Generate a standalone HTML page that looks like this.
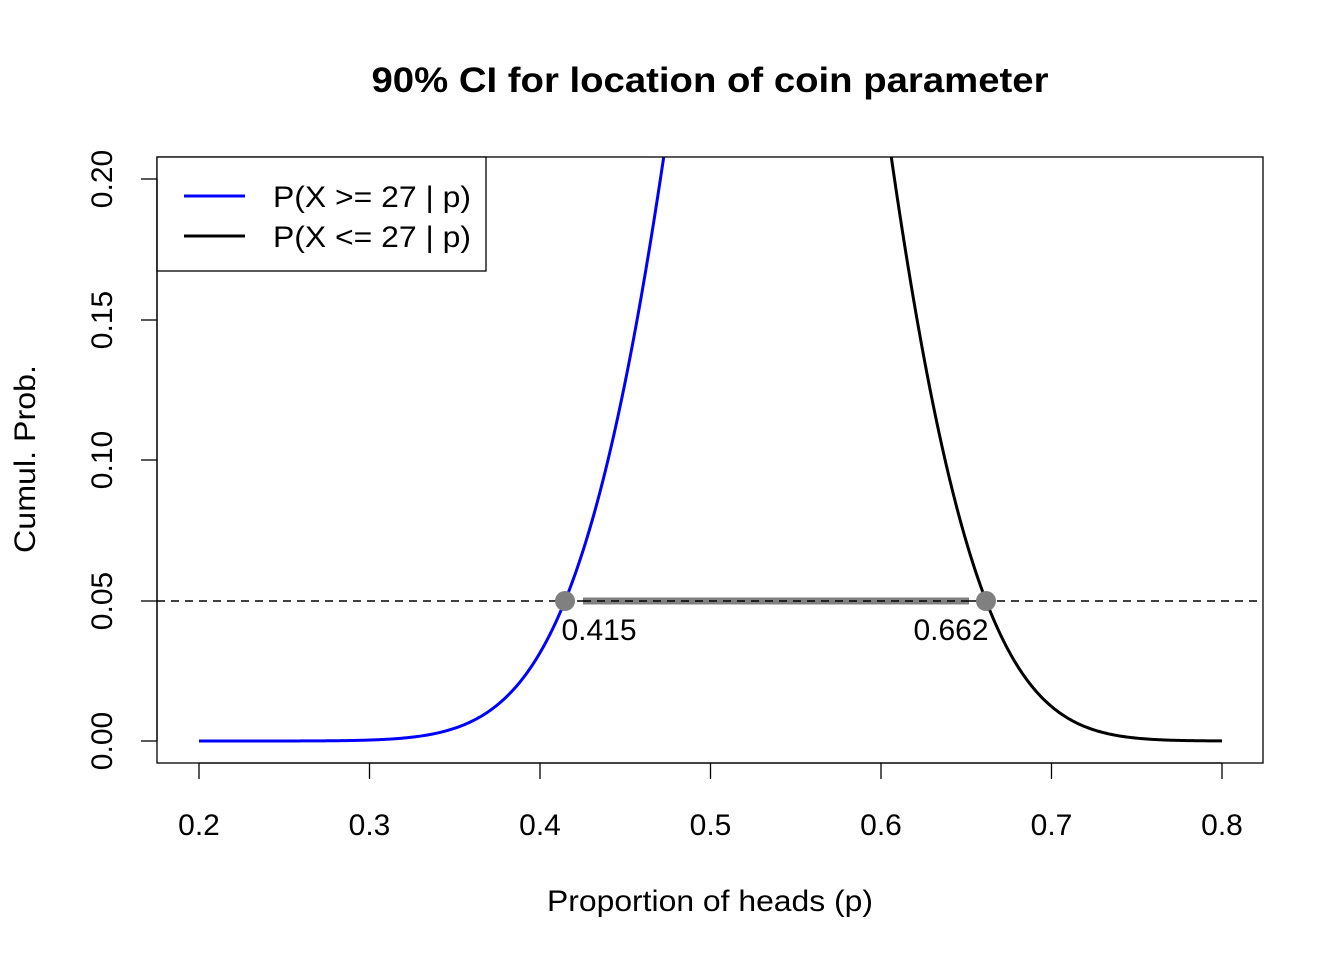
<!DOCTYPE html>
<html><head><meta charset="utf-8"><style>
html,body{margin:0;padding:0;background:#fff}
svg text{font-family:"Liberation Sans",Arial,sans-serif;fill:#000}
</style></head><body>
<svg id="s" width="1344" height="960" xmlns="http://www.w3.org/2000/svg">
<defs><clipPath id="c"><rect x="157" y="157" width="1106" height="606"/></clipPath></defs>
<text x="710" y="92" font-size="35" font-weight="bold" text-anchor="middle" textLength="677" lengthAdjust="spacingAndGlyphs">90% CI for location of coin parameter</text>
<g clip-path="url(#c)">
<line x1="157" y1="601" x2="1263" y2="601" stroke="#000" stroke-width="1.5" stroke-dasharray="8,6"/>
<line x1="583" y1="601" x2="969" y2="601" stroke="#808080" stroke-width="7"/>
<line x1="583" y1="601" x2="969" y2="601" stroke="#000" stroke-width="1.5" stroke-dasharray="8,6"/>
<path id="pb" fill="none" stroke="#0000ff" stroke-width="3"/>
<path id="pk" fill="none" stroke="#000" stroke-width="3"/>
<circle cx="565" cy="601" r="10" fill="#808080"/>
<circle cx="986" cy="601" r="10" fill="#808080"/>
</g>
<text x="599" y="640" font-size="30" text-anchor="middle">0.415</text>
<text x="951" y="640" font-size="30" text-anchor="middle">0.662</text>
<rect x="157" y="157" width="1106" height="606" fill="none" stroke="#000" stroke-width="1.3"/>
<rect x="157" y="157" width="329" height="114" fill="#fff" stroke="#000" stroke-width="1.3"/>
<line x1="184" y1="196" x2="245" y2="196" stroke="#0000ff" stroke-width="3"/>
<line x1="184" y1="236" x2="245" y2="236" stroke="#000" stroke-width="3"/>
<text x="273" y="207" font-size="30" textLength="198" lengthAdjust="spacingAndGlyphs">P(X &gt;= 27 | p)</text>
<text x="273" y="247" font-size="30" textLength="198" lengthAdjust="spacingAndGlyphs">P(X &lt;= 27 | p)</text>
<g stroke="#000" stroke-width="1.3">
<line x1="199" y1="763" x2="1222" y2="763"/>
<line x1="199" y1="763" x2="199" y2="779"/><line x1="369.5" y1="763" x2="369.5" y2="779"/>
<line x1="540" y1="763" x2="540" y2="779"/><line x1="710.5" y1="763" x2="710.5" y2="779"/>
<line x1="881" y1="763" x2="881" y2="779"/><line x1="1051.5" y1="763" x2="1051.5" y2="779"/>
<line x1="1222" y1="763" x2="1222" y2="779"/>
<line x1="157" y1="179" x2="157" y2="741"/>
<line x1="141" y1="741" x2="157" y2="741"/><line x1="141" y1="601" x2="157" y2="601"/>
<line x1="141" y1="460" x2="157" y2="460"/><line x1="141" y1="320" x2="157" y2="320"/>
<line x1="141" y1="179" x2="157" y2="179"/>
</g>
<g font-size="30" text-anchor="middle">
<text x="199" y="835">0.2</text><text x="369.5" y="835">0.3</text><text x="540" y="835">0.4</text>
<text x="710.5" y="835">0.5</text><text x="881" y="835">0.6</text><text x="1051.5" y="835">0.7</text>
<text x="1222" y="835">0.8</text>
<text transform="translate(112,741) rotate(-90)">0.00</text>
<text transform="translate(112,601) rotate(-90)">0.05</text>
<text transform="translate(112,460) rotate(-90)">0.10</text>
<text transform="translate(112,320) rotate(-90)">0.15</text>
<text transform="translate(112,179) rotate(-90)">0.20</text>
<text x="710" y="911" textLength="326" lengthAdjust="spacingAndGlyphs">Proportion of heads (p)</text>
<text transform="translate(35,459) rotate(-90)" textLength="188" lengthAdjust="spacingAndGlyphs">Cumul. Prob.</text>
</g>
</svg>
<script>
function pb(k,n,p){var s=0,c=1;for(var i=0;i<=k;i++){s+=c*Math.pow(p,i)*Math.pow(1-p,n-i);c=c*(n-i)/(i+1);}return s;}
function X(p){return 199+(p-0.2)*1705;}function Y(v){return 741-v*2810;}
var a="",b="";for(var j=0;j<=600;j++){var p=0.2+j*0.001;
var u=1-pb(26,50,p),w=pb(27,50,p);
a+=(j?"L":"M")+X(p).toFixed(2)+","+Math.max(Y(u),-100).toFixed(2);
b+=(j?"L":"M")+X(p).toFixed(2)+","+Math.max(Y(w),-100).toFixed(2);}
document.getElementById("pb").setAttribute("d",a);
document.getElementById("pk").setAttribute("d",b);
</script>
</body></html>
